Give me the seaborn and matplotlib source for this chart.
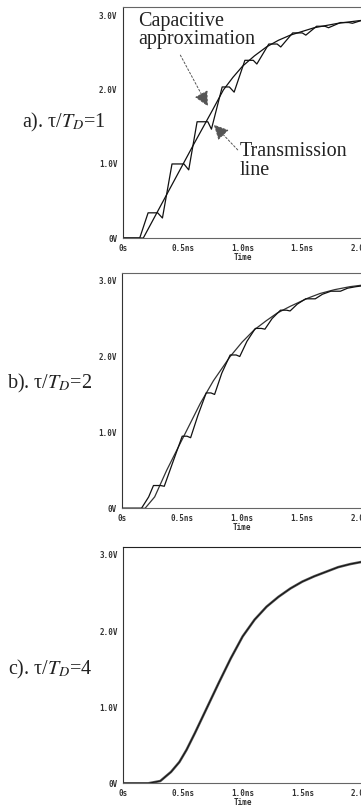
import numpy as np
import pandas as pd
import seaborn as sns
import matplotlib.pyplot as plt

# panel a: tau/TD = 1
t_a_cap = [0, 0.17, 0.30, 0.45, 0.60, 0.75, 0.84, 0.92, 1.00, 1.10, 1.20, 1.30, 1.40, 1.50, 1.60, 1.70, 1.80, 1.90, 2.00]
v_a_cap = [0, 0, 0.39, 0.84, 1.29, 1.73, 2.00, 2.17, 2.32, 2.46, 2.58, 2.67, 2.74, 2.79, 2.84, 2.87, 2.90, 2.92, 2.94]
t_a_tl = [0, 0.14, 0.21, 0.29, 0.33, 0.41, 0.51, 0.55, 0.62, 0.71, 0.74, 0.83, 0.89, 0.93, 1.02, 1.09,
          1.12, 1.22, 1.29, 1.32, 1.42, 1.50, 1.53, 1.62, 1.69, 1.72, 1.82, 1.89, 1.92, 2.00]
v_a_tl = [0, 0, 0.34, 0.34, 0.27, 1.00, 1.00, 0.92, 1.57, 1.57, 1.47, 2.04, 2.04, 1.97, 2.40, 2.40,
          2.35, 2.62, 2.62, 2.58, 2.77, 2.77, 2.74, 2.86, 2.86, 2.84, 2.91, 2.91, 2.90, 2.94]

# panel b: tau/TD = 2
t_b_cap = [0, 0.19, 0.27, 0.37, 0.51, 0.65, 0.76, 0.90, 1.00, 1.10, 1.20, 1.29, 1.40, 1.55, 1.65, 1.77, 1.90, 2.00]
v_b_cap = [0, 0, 0.15, 0.50, 0.94, 1.38, 1.68, 2.00, 2.19, 2.35, 2.47, 2.57, 2.66, 2.77, 2.83, 2.88, 2.92, 2.94]
t_b_tl = [0, 0.16, 0.22, 0.26, 0.32, 0.35, 0.42, 0.50, 0.54, 0.57, 0.63, 0.70, 0.74, 0.77, 0.83, 0.90, 0.95,
          0.98, 1.04, 1.11, 1.16, 1.19, 1.25, 1.32, 1.37, 1.40, 1.46, 1.53, 1.58, 1.61, 1.67, 1.74, 1.79,
          1.82, 1.88, 1.95, 2.00]
v_b_tl = [0, 0, 0.15, 0.30, 0.30, 0.29, 0.60, 0.95, 0.95, 0.93, 1.22, 1.52, 1.52, 1.50, 1.78, 2.02, 2.02,
          2.00, 2.20, 2.37, 2.37, 2.36, 2.50, 2.61, 2.61, 2.60, 2.69, 2.76, 2.76, 2.76, 2.82, 2.86, 2.86,
          2.86, 2.90, 2.92, 2.93]

# panel c: tau/TD = 4 (both curves overlap)
t_c = [0, 0.21, 0.31, 0.40, 0.47, 0.53, 0.60, 0.70, 0.80, 0.90, 1.00, 1.10, 1.20, 1.30, 1.40, 1.50,
       1.60, 1.70, 1.80, 1.90, 2.00]
v_c = [0, 0, 0.03, 0.15, 0.28, 0.44, 0.66, 0.99, 1.32, 1.64, 1.93, 2.15, 2.32, 2.45, 2.56, 2.65,
       2.72, 2.78, 2.84, 2.88, 2.91]

xticks = [0, 0.5, 1.0, 1.5, 2.0]
xticklabels = ['0s', '0.5ns', '1.0ns', '1.5ns', '2.0ns']
yticks = [0, 1, 2, 3]
yticklabels = ['0V', '1.0V', '2.0V', '3.0V']
panel_labels = [r'a). τ/$T_D$=1', r'b). τ/$T_D$=2', r'c). τ/$T_D$=4']

sns.set_style('white')
plt.rcParams['mathtext.fontset'] = 'stix'

W, H = 361, 806
fig = plt.figure(figsize=(W / 100, H / 100), dpi=100)


def px(x):
    return x / W


def py(y):
    return 1 - y / H


def make_axes(left, bottom, top):
    # pixel box -> figure fractions, right edge sits just past the image
    return fig.add_axes([px(left), py(bottom), px(362) - px(left), (bottom - top) / H])


def style_axes(ax, ytop):
    ax.set_xlim(0, 2.0)
    ax.set_ylim(0, ytop)
    ax.set_xticks(xticks)
    ax.set_xticklabels(xticklabels)
    ax.set_yticks(yticks)
    ax.set_yticklabels(yticklabels)
    ax.tick_params(axis='both', labelsize=5.5, length=2.5, width=0.6, pad=1.5, colors='#333')
    for lab in ax.get_xticklabels() + ax.get_yticklabels():
        lab.set_family('DejaVu Sans Mono')
        lab.set_weight('bold')
    ax.set_xlabel('Time', fontsize=5.5, family='DejaVu Sans Mono', weight='bold', labelpad=0, color='#333')
    ax.set_ylabel('')
    ax.spines['left'].set_color('#333')
    ax.spines['left'].set_linewidth(0.8)
    for s in ['top', 'bottom']:
        ax.spines[s].set_linestyle((0, (1, 1)))
        ax.spines[s].set_color('#666')
        ax.spines[s].set_linewidth(0.8)
    ax.spines['right'].set_visible(False)
    ax.set_facecolor('white')


def draw(ax, t, v, color='#111', lw=0.9):
    df = pd.DataFrame({'t': t, 'v': v})
    sns.lineplot(data=df, x='t', y='v', ax=ax, color=color, lw=lw, estimator=None, sort=False)


# panel a
ax_a = make_axes(123, 238, 7)
draw(ax_a, t_a_cap, v_a_cap)
draw(ax_a, t_a_tl, v_a_tl)
style_axes(ax_a, 3.12)

# panel b
ax_b = make_axes(122.3, 508.3, 273)
draw(ax_b, t_b_cap, v_b_cap, color='#333')
draw(ax_b, t_b_tl, v_b_tl)
style_axes(ax_b, 3.10)

# panel c
ax_c = make_axes(123.3, 783.3, 547)
draw(ax_c, t_c, v_c, color='#555', lw=1.8)
draw(ax_c, t_c, v_c, color='#111', lw=0.7)
style_axes(ax_c, 3.105)
ax_c.spines['top'].set_linestyle('-')
ax_c.spines['top'].set_color('#222')

# annotations in panel a
serif = 'Liberation Serif'
fig.text(px(138), py(12), 'Capacitive\napproximation', ha='left', va='top', fontsize=14.5,
         family=serif, linespacing=0.95, color='#222')
fig.text(px(240), py(142), 'Transmission\nline', ha='left', va='top', fontsize=14.5,
         family=serif, linespacing=1.0, color='#222')
arrow = dict(arrowstyle='-|>,head_length=0.9,head_width=0.45', linestyle=(0, (2, 2)),
             color='#555', lw=0.7, shrinkA=0, shrinkB=0)
ax_a.annotate('', xy=(0.71, 1.78), xytext=(0.48, 2.47), arrowprops=arrow)
ax_a.annotate('', xy=(0.76, 1.53), xytext=(0.96, 1.19), arrowprops=arrow)

# panel labels on the left
for label, (x0, y0) in zip(panel_labels, [(22, 122), (7, 383), (8, 669)]):
    fig.text(px(x0), py(y0), label, ha='left', va='center', fontsize=14.5, family=serif, color='#222')

fig.savefig('out.png', dpi=100, facecolor='white')
